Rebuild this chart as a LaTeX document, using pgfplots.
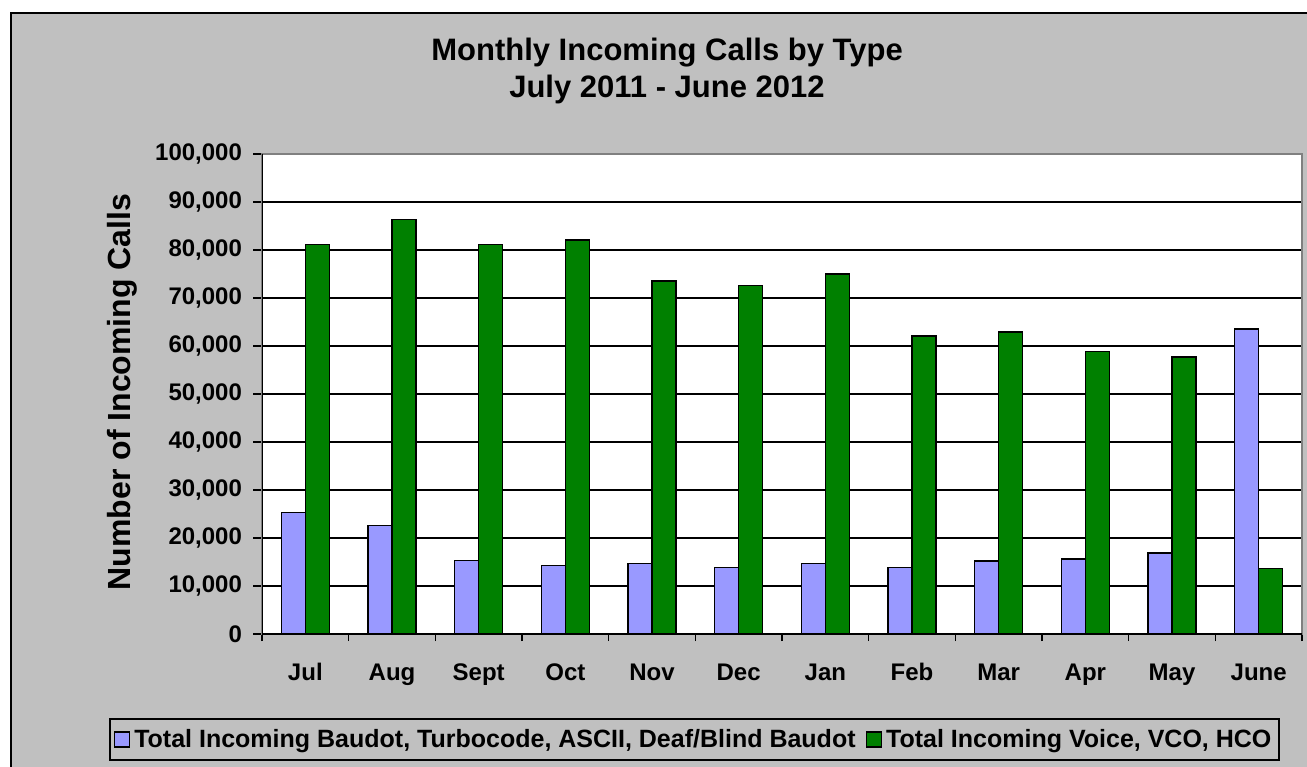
\documentclass[border=0pt]{standalone}
\usepackage{pgfplots}
\pgfplotsset{compat=1.18}
\usepackage{fontspec}
\setmainfont{Liberation Sans}

\definecolor{baudot}{HTML}{9999FF}
\definecolor{voice}{HTML}{008000}
\definecolor{chartbg}{HTML}{C0C0C0}
\definecolor{framegray}{HTML}{808080}

\begin{document}
\begin{tikzpicture}
\path[use as bounding box] (0,0) rectangle (653.5pt,383pt);
\fill[white] (0,0) rectangle (653.5pt,383pt);
\begin{scope}
  \clip (0,0) rectangle (653.5pt,383pt);
  \filldraw[fill=chartbg, draw=black, line width=1pt] (5.5pt,-10pt) rectangle (670pt,376.5pt);
\end{scope}

% title, two lines
\node[anchor=base, font=\fontsize{15.5}{18}\selectfont\bfseries] at (333.5pt,352.5pt) {Monthly Incoming Calls by Type};
\node[anchor=base, font=\fontsize{15.5}{18}\selectfont\bfseries] at (333.5pt,334pt) {July 2011 - June 2012};
\node[rotate=90, font=\fontsize{16}{19}\selectfont\bfseries] at (61pt,187pt) {Number of Incoming Calls};

\begin{axis}[
    at={(131pt,66pt)}, anchor=south west,
    scale only axis,
    width=520pt, height=240pt,
    ybar=0pt, bar width=12pt,
    xmin=-0.5, xmax=11.5,
    ymin=0, ymax=100000,
    xtick={0,...,11},
    xticklabels={Jul,Aug,Sept,Oct,Nov,Dec,Jan,Feb,Mar,Apr,May,June},
    major x tick style={draw=none},
    minor xtick={-0.5,0.5,...,11.5},
    minor tick length=3.5pt,
    ytick={0,10000,...,100000},
    major tick length=4.5pt,
    tick align=outside,
    xtick pos=bottom, ytick pos=left,
    tick style={black, line width=0.7pt},
    scaled y ticks=false,
    yticklabel style={/pgf/number format/fixed, /pgf/number format/1000 sep={,},
        /pgf/number format/assume math mode=true, xshift=-2pt},
    xticklabel style={anchor=base, yshift=-18.5pt},
    ticklabel style={font=\fontsize{12}{14}\selectfont\bfseries},
    ymajorgrids,
    major grid style={black, line width=0.6pt},
    axis line style={draw=framegray, line width=1pt},
    axis background/.style={fill=white},
    legend columns=2,
    legend style={at={(0.4159,-0.2198)}, anchor=center, draw=black, line width=1pt,
        fill=chartbg, font=\fontsize{12.5}{15}\selectfont\bfseries,
        inner xsep=2pt, inner ysep=3pt,
        /tikz/every even column/.append style={column sep=3pt}},
    legend image code/.code={\draw[#1, line width=0.8pt] (0pt,-3.8pt) rectangle (7.5pt,3.8pt);},
]

\addplot[fill=baudot, draw=black, line width=0.7pt] coordinates {
    (0,25300) (1,22600) (2,15300) (3,14300) (4,14700) (5,13800)
    (6,14700) (7,13800) (8,15200) (9,15600) (10,16900) (11,63500)
};
\addplot[fill=voice, draw=black, line width=0.7pt] coordinates {
    (0,81200) (1,86300) (2,81100) (3,82100) (4,73500) (5,72600)
    (6,75000) (7,62100) (8,62900) (9,58800) (10,57700) (11,13600)
};

\legend{{Total Incoming Baudot, Turbocode, ASCII, Deaf/Blind Baudot},{Total Incoming Voice, VCO, HCO}}

\draw[black, line width=1pt] (rel axis cs:0,1) -- (rel axis cs:0,0) -- (rel axis cs:1,0);
\end{axis}
\end{tikzpicture}
\end{document}
